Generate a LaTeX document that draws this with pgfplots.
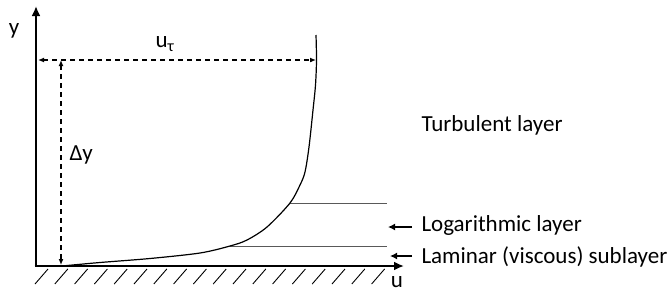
\documentclass[border=0pt]{standalone}
\usepackage{fontspec}
\setmainfont{Carlito}
\usepackage{pgfplots}
\pgfplotsset{compat=1.18}
\usetikzlibrary{arrows.meta}
\begin{document}
\begin{tikzpicture}
\begin{axis}[
  x=1bp, y=1bp, y dir=reverse,
  xmin=0, xmax=671, ymin=0, ymax=294,
  hide axis, clip=false,
]
\path (axis cs:0,0) rectangle (axis cs:671,294);
% hatching
\pgfplotsinvokeforeach{0,...,17}{
  \draw[line width=0.9bp] (axis cs:{35+19.8*#1},284) -- (axis cs:{48+19.8*#1},269);
}
% axes
\draw[line width=2.8bp,-{Latex[length=10bp,width=9bp]}] (axis cs:36,266) -- (axis cs:36,6);
\draw[line width=2.8bp,-{Latex[length=10bp,width=9bp]}] (axis cs:34.6,266) -- (axis cs:404,266);
% layer boundaries
\addplot[gray!70!black, line width=1bp] coordinates {(290,203) (387,203)};
\addplot[gray!70!black, line width=1bp] coordinates {(230,246) (387,246)};
% velocity profile
\addplot[black, line width=1.2bp, smooth, tension=0.5] coordinates {
 (62,266) (100,262.5) (150,258.5) (200,253) (230,246) (247,240) (267,227)
 (290,203) (300,185) (305,172) (309,147) (313,110) (315.5,85) (316.5,60) (316,35)
};
% dimension lines
\draw[line width=1.4bp, dash pattern=on 5bp off 4bp, {Latex[length=6bp,width=5bp]}-{Latex[length=6bp,width=5bp]}]
  (axis cs:38,60) -- (axis cs:316,60);
\draw[line width=1.4bp, dash pattern=on 5bp off 4bp, {Latex[length=6bp,width=5bp]}-{Latex[length=6bp,width=5bp]}]
  (axis cs:61,60) -- (axis cs:61,265);
% small arrows
\draw[line width=1.6bp,-{Latex[length=7bp,width=7bp]}] (axis cs:412,227) -- (axis cs:388,227);
\draw[line width=1.6bp,-{Latex[length=7bp,width=7bp]}] (axis cs:412,256) -- (axis cs:390,256);
% labels
\node[font=\fontsize{23bp}{26bp}\selectfont] at (axis cs:14,31) {y};
\node[font=\fontsize{23bp}{26bp}\selectfont] at (axis cs:397,282) {u};
\node[font=\fontsize{23bp}{26bp}\selectfont] at (axis cs:165,44) {u\textsubscript{τ}};
\node[font=\fontsize{23bp}{26bp}\selectfont, anchor=west] at (axis cs:66,155) {Δy};
\node[font=\fontsize{23bp}{26bp}\selectfont, anchor=west] at (axis cs:418,125) {Turbulent layer};
\node[font=\fontsize{23bp}{26bp}\selectfont, anchor=west] at (axis cs:418,225) {Logarithmic layer};
\node[font=\fontsize{23bp}{26bp}\selectfont, anchor=west] at (axis cs:418,257) {Laminar (viscous) sublayer};
\end{axis}
\end{tikzpicture}
\end{document}
